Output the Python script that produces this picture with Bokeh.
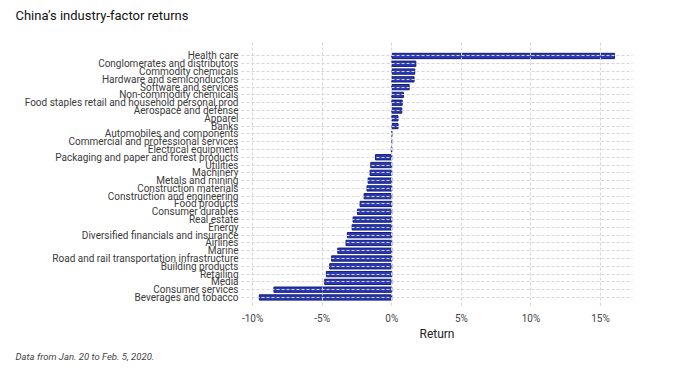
from bokeh.plotting import figure
from bokeh.models import Range1d, FixedTicker, PrintfTickFormatter, Title, ColumnDataSource
from bokeh.embed import file_html
from bokeh.resources import INLINE

categories = [
    "Health care", "Conglomerates and distributors", "Commodity chemicals",
    "Hardware and semiconductors", "Software and services", "Non-commodity chemicals",
    "Food staples retail and household personal prod", "Aerospace and defense",
    "Apparel", "Banks", "Automobiles and components",
    "Commercial and professional services", "Electrical equipment",
    "Packaging and paper and forest products", "Utilities", "Machinery",
    "Metals and mining", "Construction materials", "Construction and engineering",
    "Food products", "Consumer durables", "Real estate", "Energy",
    "Diversified financials and insurance", "Airlines", "Marine",
    "Road and rail transportation infrastructure", "Building products",
    "Retailing", "Media", "Consumer services", "Beverages and tobacco",
]
returns_pct = [
    16.0, 1.73, 1.65, 1.6, 1.25, 0.84, 0.75, 0.72, 0.45, 0.45, 0.0, -0.02, -0.03,
    -1.17, -1.51, -1.56, -1.7, -1.78, -1.99, -2.28, -2.47, -2.78, -2.85, -3.19,
    -3.29, -3.88, -4.32, -4.46, -4.70, -4.82, -8.47, -9.52,
]
x_ticks = [-10, -5, 0, 5, 10, 15]
title_text = "China\u2019s industry-factor returns"
caption_text = "Data from Jan. 20 to Feb. 5, 2020."
x_label = "Return"

positions = list(range(len(categories)))
src = ColumnDataSource(dict(pos=positions, val=returns_pct, cat=categories))

p = figure(
    frame_width=391, frame_height=264,
    x_range=Range1d(-10.8, 17.3),
    y_range=Range1d(len(categories) - 1 + 1.16, -1.73),
    output_backend="svg", toolbar_location=None,
    min_border_left=241, min_border_right=36, min_border_top=41, min_border_bottom=56,
)
p.outline_line_color = None
p.background_fill_color = "white"
p.border_fill_color = "white"

p.hbar(y="pos", right="val", left=0, height=0.68, source=src,
       fill_color="#2a3ab5", line_color="#141c78", line_width=1)

yt = FixedTicker(ticks=positions)
p.yaxis.ticker = yt
p.ygrid.ticker = yt
p.yaxis.major_label_overrides = {i: c for i, c in zip(positions, categories)}
xt = FixedTicker(ticks=x_ticks)
p.xaxis.ticker = xt
p.xgrid.ticker = xt
p.xaxis.formatter = PrintfTickFormatter(format="%d%%")

for ax in (p.xaxis, p.yaxis):
    ax.axis_line_color = None
    ax.major_tick_line_color = None
    ax.minor_tick_line_color = None
    ax.major_tick_out = 0
    ax.major_tick_in = 0
    ax.minor_tick_out = 0
    ax.minor_tick_in = 0
    ax.major_label_text_font = "Roboto"
    ax.major_label_text_font_size = "10px"
    ax.major_label_text_color = "#444444"

p.yaxis.major_label_standoff = 3
p.yaxis.major_label_text_color = "#3a3a3a"
p.xaxis.major_label_standoff = 6
p.xaxis.axis_label = x_label
p.xaxis.axis_label_text_font = "Roboto"
p.xaxis.axis_label_text_font_style = "normal"
p.xaxis.axis_label_text_font_size = "12px"
p.xaxis.axis_label_text_color = "#222222"
p.xaxis.axis_label_standoff = 0

for g in (p.xgrid, p.ygrid):
    g.grid_line_color = "#d6d6d6"
    g.grid_line_dash = "3 2"
    g.grid_line_width = 1
    g.level = "overlay"

p.title.text = title_text
p.title.align = "left"
p.title.offset = -226
p.title.text_font = "Roboto"
p.title.text_font_size = "13px"
p.title.text_font_style = "normal"
p.title.text_color = "#111111"

# spacer between title and frame
p.add_layout(Title(text=" ", text_font_size="3px"), "above")

p.add_layout(Title(text=caption_text, align="left", offset=-226,
                   text_font="Roboto", text_font_size="9.5px", text_font_style="italic",
                   text_color="#444444"), "below")

open("out.html", "w").write(file_html(p, INLINE))
